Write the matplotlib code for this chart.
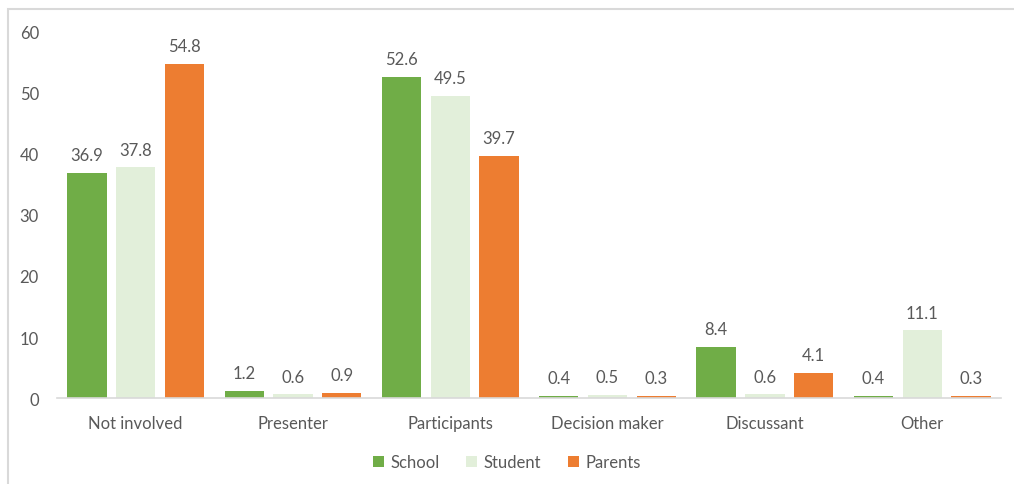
import matplotlib.pyplot as plt
from matplotlib.patches import Rectangle
import numpy as np

categories = ["Not involved", "Presenter", "Participants", "Decision maker", "Discussant", "Other"]
school = [36.9, 1.2, 52.6, 0.4, 8.4, 0.4]
student = [37.8, 0.6, 49.5, 0.5, 0.6, 11.1]
parents = [54.8, 0.9, 39.7, 0.3, 4.1, 0.3]

series = [("School", school, "#70AD47"),
          ("Student", student, "#E2EFDA"),
          ("Parents", parents, "#ED7D31")]

plt.rcParams['font.family'] = ['Lato', 'DejaVu Sans']
text_color = "#595959"

fig = plt.figure(figsize=(10.14, 4.85), dpi=100)
ax = fig.add_axes([0.0562, 0.1773, 0.9308, 0.7547])

# chart frame
fig.patches.append(Rectangle((8 / 1014, -0.1), 1.2, 1.1 - 10 / 485, transform=fig.transFigure,
                             fill=False, edgecolor="#D9D9D9", linewidth=1.5, zorder=0))

x = np.arange(len(categories))
width = 0.25
step = 0.31
for i, (name, vals, color) in enumerate(series):
    pos = x + (i - 1) * step
    bars = ax.bar(pos, vals, width, color=color, label=name)
    for xp, v in zip(pos, vals):
        ax.text(xp, v + 1.6, f"{v:.1f}", ha="center", va="bottom", fontsize=12, color=text_color)

ax.set_xlim(-0.5, len(categories) - 0.5)
ax.set_ylim(0, 60)
ax.set_yticks(range(0, 61, 10))
ax.set_xticks(x)
ax.set_xticklabels(categories)
ax.tick_params(axis="both", length=0, labelsize=12, colors=text_color)
ax.tick_params(axis="y", pad=13)
ax.tick_params(axis="x", pad=12)
for side in ["top", "right", "left"]:
    ax.spines[side].set_visible(False)
ax.spines["bottom"].set_color("#D9D9D9")
ax.spines["bottom"].set_linewidth(1.2)

leg = fig.legend(loc="center", bbox_to_anchor=(0.5, 1 - 463 / 485), ncol=3, frameon=False,
                 fontsize=12, handlelength=0.65, handleheight=0.65, handletextpad=0.4,
                 columnspacing=1.6)
for t in leg.get_texts():
    t.set_color(text_color)

fig.savefig("out.png", dpi=100)
